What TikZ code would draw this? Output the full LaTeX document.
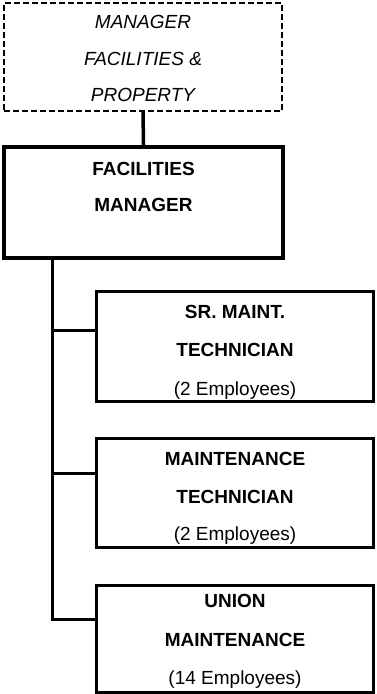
\documentclass[tikz,border=0pt]{standalone}
\usepackage{fontspec}
\setmainfont{Liberation Sans}
% raises the first line's height so the text block sits lower in its box
\newcommand\topgap[1]{\rule{0pt}{#1}}
\begin{document}
\begin{tikzpicture}[x=1pt, y=-1pt,
  every node/.style={inner sep=0pt, align=center, font=\fontsize{19}{37}\selectfont},
  unitbox/.style={draw, line width=3pt, minimum width=277pt, minimum height=110pt},
  headbox/.style={draw, line width=4pt, minimum width=279pt, minimum height=111pt, font=\fontsize{19}{36}\selectfont\bfseries},
  vacant/.style={draw, line width=1.4pt, dash pattern=on 6pt off 3pt, minimum width=278pt, minimum height=108pt, font=\fontsize{19}{36.5}\selectfont\itshape},
  link/.style={line width=3.5pt},
  tree/.style={line width=3pt, line join=miter}]
\useasboundingbox (0,0) rectangle (376,694);

% boxes
\node[vacant] (mfp) at (143,57) {\topgap{16.6pt}MANAGER\\FACILITIES \&\\PROPERTY};
\node[headbox] (fm) at (143.5,202.5) {\topgap{28.6pt}FACILITIES\\MANAGER\\\strut};
\node[unitbox, font=\fontsize{19}{38.5}\selectfont] (sr) at (235,346.5) {\topgap{24.6pt}\textbf{SR. MAINT.}\\\textbf{TECHNICIAN}\\(2 Employees)};
\node[unitbox, minimum height=109pt, font=\fontsize{19}{37.5}\selectfont] (mt) at (235,492.5) {\topgap{25.2pt}\textbf{MAINTENANCE}\\\textbf{TECHNICIAN}\\(2 Employees)};
\node[unitbox, minimum height=107pt, font=\fontsize{19}{38.5}\selectfont] (un) at (235,638.5) {\topgap{19.6pt}\textbf{UNION}\\\textbf{MAINTENANCE}\\(14 Employees)};

% reporting lines
\draw[link] (mfp.south) -- (fm.north);
\coordinate (trunk) at (52,258);
\coordinate (b1) at (52,330);
\coordinate (b2) at (52,473);
\coordinate (b3) at (52,619);
\draw[tree] (trunk) -- (b3) -- (b3 -| un.west);
\draw[tree] (b1) -- (b1 -| sr.west);
\draw[tree] (b2) -- (b2 -| mt.west);
\end{tikzpicture}
\end{document}
